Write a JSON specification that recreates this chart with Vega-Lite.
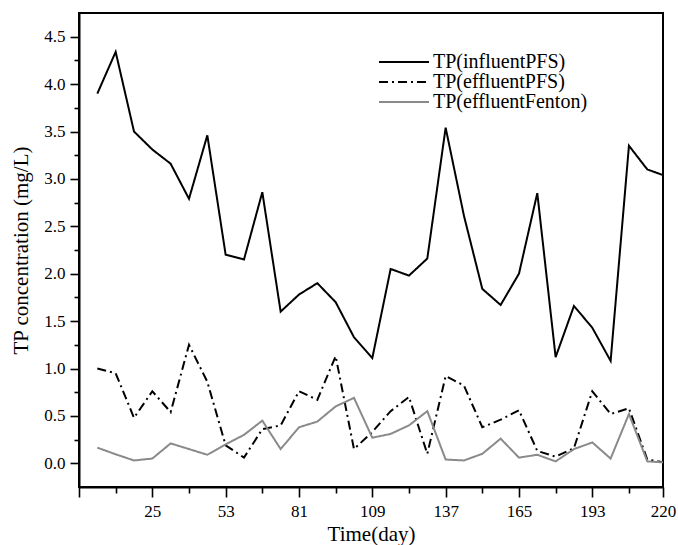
{
  "$schema": "https://vega.github.io/schema/vega-lite/v6.json",
  "width": 584,
  "height": 474,
  "autosize": {"type": "none"},
  "padding": {"left": 79, "top": 13, "right": 15, "bottom": 58},
  "background": "white",
  "config": {
    "font": "Liberation Serif",
    "view": {"stroke": "black", "strokeWidth": 2},
    "axis": {"grid": false, "domainColor": "black", "domainWidth": 2, "tickColor": "black", "tickWidth": 1.6, "labelColor": "black", "titleColor": "black", "labelFont": "Liberation Serif", "titleFont": "Liberation Serif", "labelFontSize": 17, "titleFontSize": 21, "titleFontWeight": "normal"}
  },
  "data": {"values": [
    {"day": 4, "series": "TP(influentPFS)", "value": 3.90},
    {"day": 11, "series": "TP(influentPFS)", "value": 4.34},
    {"day": 18, "series": "TP(influentPFS)", "value": 3.50},
    {"day": 25, "series": "TP(influentPFS)", "value": 3.31},
    {"day": 32, "series": "TP(influentPFS)", "value": 3.16},
    {"day": 39, "series": "TP(influentPFS)", "value": 2.79},
    {"day": 46, "series": "TP(influentPFS)", "value": 3.46},
    {"day": 53, "series": "TP(influentPFS)", "value": 2.20},
    {"day": 60, "series": "TP(influentPFS)", "value": 2.15},
    {"day": 67, "series": "TP(influentPFS)", "value": 2.86},
    {"day": 74, "series": "TP(influentPFS)", "value": 1.60},
    {"day": 81, "series": "TP(influentPFS)", "value": 1.78},
    {"day": 88, "series": "TP(influentPFS)", "value": 1.90},
    {"day": 95, "series": "TP(influentPFS)", "value": 1.70},
    {"day": 102, "series": "TP(influentPFS)", "value": 1.33},
    {"day": 109, "series": "TP(influentPFS)", "value": 1.11},
    {"day": 116, "series": "TP(influentPFS)", "value": 2.05},
    {"day": 123, "series": "TP(influentPFS)", "value": 1.98},
    {"day": 130, "series": "TP(influentPFS)", "value": 2.16},
    {"day": 137, "series": "TP(influentPFS)", "value": 3.54},
    {"day": 144, "series": "TP(influentPFS)", "value": 2.61},
    {"day": 151, "series": "TP(influentPFS)", "value": 1.84},
    {"day": 158, "series": "TP(influentPFS)", "value": 1.67},
    {"day": 165, "series": "TP(influentPFS)", "value": 2.00},
    {"day": 172, "series": "TP(influentPFS)", "value": 2.85},
    {"day": 179, "series": "TP(influentPFS)", "value": 1.12},
    {"day": 186, "series": "TP(influentPFS)", "value": 1.66},
    {"day": 193, "series": "TP(influentPFS)", "value": 1.43},
    {"day": 200, "series": "TP(influentPFS)", "value": 1.08},
    {"day": 207, "series": "TP(influentPFS)", "value": 3.35},
    {"day": 214, "series": "TP(influentPFS)", "value": 3.10},
    {"day": 220, "series": "TP(influentPFS)", "value": 3.04},
    {"day": 4, "series": "TP(effluentPFS)", "value": 1.00},
    {"day": 11, "series": "TP(effluentPFS)", "value": 0.95},
    {"day": 18, "series": "TP(effluentPFS)", "value": 0.48},
    {"day": 25, "series": "TP(effluentPFS)", "value": 0.76},
    {"day": 32, "series": "TP(effluentPFS)", "value": 0.54},
    {"day": 39, "series": "TP(effluentPFS)", "value": 1.25},
    {"day": 46, "series": "TP(effluentPFS)", "value": 0.86},
    {"day": 53, "series": "TP(effluentPFS)", "value": 0.19},
    {"day": 60, "series": "TP(effluentPFS)", "value": 0.06},
    {"day": 67, "series": "TP(effluentPFS)", "value": 0.36},
    {"day": 74, "series": "TP(effluentPFS)", "value": 0.40},
    {"day": 81, "series": "TP(effluentPFS)", "value": 0.76},
    {"day": 88, "series": "TP(effluentPFS)", "value": 0.67},
    {"day": 95, "series": "TP(effluentPFS)", "value": 1.13},
    {"day": 102, "series": "TP(effluentPFS)", "value": 0.15},
    {"day": 109, "series": "TP(effluentPFS)", "value": 0.33},
    {"day": 116, "series": "TP(effluentPFS)", "value": 0.55},
    {"day": 123, "series": "TP(effluentPFS)", "value": 0.70},
    {"day": 130, "series": "TP(effluentPFS)", "value": 0.10},
    {"day": 137, "series": "TP(effluentPFS)", "value": 0.92},
    {"day": 144, "series": "TP(effluentPFS)", "value": 0.82},
    {"day": 151, "series": "TP(effluentPFS)", "value": 0.38},
    {"day": 158, "series": "TP(effluentPFS)", "value": 0.46},
    {"day": 165, "series": "TP(effluentPFS)", "value": 0.56},
    {"day": 172, "series": "TP(effluentPFS)", "value": 0.13},
    {"day": 179, "series": "TP(effluentPFS)", "value": 0.07},
    {"day": 186, "series": "TP(effluentPFS)", "value": 0.16},
    {"day": 193, "series": "TP(effluentPFS)", "value": 0.76},
    {"day": 200, "series": "TP(effluentPFS)", "value": 0.52},
    {"day": 207, "series": "TP(effluentPFS)", "value": 0.58},
    {"day": 214, "series": "TP(effluentPFS)", "value": 0.04},
    {"day": 220, "series": "TP(effluentPFS)", "value": 0.01},
    {"day": 4, "series": "TP(effluentFenton)", "value": 0.165},
    {"day": 11, "series": "TP(effluentFenton)", "value": 0.095},
    {"day": 18, "series": "TP(effluentFenton)", "value": 0.03},
    {"day": 25, "series": "TP(effluentFenton)", "value": 0.05},
    {"day": 32, "series": "TP(effluentFenton)", "value": 0.21},
    {"day": 39, "series": "TP(effluentFenton)", "value": 0.15},
    {"day": 46, "series": "TP(effluentFenton)", "value": 0.09},
    {"day": 53, "series": "TP(effluentFenton)", "value": 0.20},
    {"day": 60, "series": "TP(effluentFenton)", "value": 0.30},
    {"day": 67, "series": "TP(effluentFenton)", "value": 0.45},
    {"day": 74, "series": "TP(effluentFenton)", "value": 0.15},
    {"day": 81, "series": "TP(effluentFenton)", "value": 0.38},
    {"day": 88, "series": "TP(effluentFenton)", "value": 0.44},
    {"day": 95, "series": "TP(effluentFenton)", "value": 0.60},
    {"day": 102, "series": "TP(effluentFenton)", "value": 0.69},
    {"day": 109, "series": "TP(effluentFenton)", "value": 0.27},
    {"day": 116, "series": "TP(effluentFenton)", "value": 0.31},
    {"day": 123, "series": "TP(effluentFenton)", "value": 0.40},
    {"day": 130, "series": "TP(effluentFenton)", "value": 0.55},
    {"day": 137, "series": "TP(effluentFenton)", "value": 0.04},
    {"day": 144, "series": "TP(effluentFenton)", "value": 0.03},
    {"day": 151, "series": "TP(effluentFenton)", "value": 0.10},
    {"day": 158, "series": "TP(effluentFenton)", "value": 0.26},
    {"day": 165, "series": "TP(effluentFenton)", "value": 0.06},
    {"day": 172, "series": "TP(effluentFenton)", "value": 0.09},
    {"day": 179, "series": "TP(effluentFenton)", "value": 0.02},
    {"day": 186, "series": "TP(effluentFenton)", "value": 0.15},
    {"day": 193, "series": "TP(effluentFenton)", "value": 0.22},
    {"day": 200, "series": "TP(effluentFenton)", "value": 0.05},
    {"day": 207, "series": "TP(effluentFenton)", "value": 0.52},
    {"day": 214, "series": "TP(effluentFenton)", "value": 0.02},
    {"day": 220, "series": "TP(effluentFenton)", "value": 0.01}
  ]},
  "mark": {"type": "line", "strokeWidth": 2},
  "encoding": {
    "x": {
      "field": "day", "type": "quantitative",
      "scale": {"domain": [-3, 220], "nice": false, "zero": false},
      "axis": {
        "title": "Time(day)",
        "values": [-3, 11, 25, 39, 53, 67, 81, 95, 109, 123, 137, 151, 165, 179, 193, 207, 220],
        "labelExpr": "indexof([25, 53, 81, 109, 137, 165, 193, 220], datum.value) >= 0 ? datum.label : ''",
        "tickSize": {"condition": {"test": "indexof([-3, 25, 53, 81, 109, 137, 165, 193, 220], datum.value) >= 0", "value": 10}, "value": 6},
        "labelPadding": 6,
        "labelFlush": false,
        "labelOverlap": false,
        "titlePadding": 4
      }
    },
    "y": {
      "field": "value", "type": "quantitative",
      "scale": {"domain": [-0.25, 4.75], "nice": false, "zero": false},
      "axis": {
        "title": "TP concentration (mg/L)",
        "values": [0, 0.25, 0.5, 0.75, 1, 1.25, 1.5, 1.75, 2, 2.25, 2.5, 2.75, 3, 3.25, 3.5, 3.75, 4, 4.25, 4.5],
        "labelExpr": "round(datum.value * 2) == datum.value * 2 ? format(datum.value, '.1f') : ''",
        "tickSize": {"condition": {"test": "round(datum.value * 2) == datum.value * 2", "value": 9}, "value": 5},
        "labelPadding": 5,
        "labelOverlap": false,
        "labelFlush": false,
        "titlePadding": 12
      }
    },
    "color": {
      "field": "series", "type": "nominal",
      "scale": {"domain": ["TP(influentPFS)", "TP(effluentPFS)", "TP(effluentFenton)"], "range": ["#000000", "#000000", "#8a8a8a"]},
      "legend": {
        "title": null, "orient": "none", "legendX": 315, "legendY": 39,
        "symbolType": "M-5,0L5,0", "symbolSize": 100, "symbolStrokeWidth": 2,
        "labelFontSize": 20, "labelFont": "Liberation Serif", "labelColor": "black",
        "labelOffset": 19, "rowPadding": -5, "labelLimit": 400
      }
    },
    "strokeDash": {
      "field": "series", "type": "nominal",
      "scale": {"domain": ["TP(influentPFS)", "TP(effluentPFS)", "TP(effluentFenton)"], "range": [[1, 0], [9, 4, 2, 4], [1, 0]]},
      "legend": {
        "title": null, "orient": "none", "legendX": 315, "legendY": 39,
        "symbolType": "M-5,0L5,0", "symbolSize": 100, "symbolStrokeWidth": 2,
        "labelFontSize": 20, "labelFont": "Liberation Serif", "labelColor": "black",
        "labelOffset": 19, "rowPadding": -5, "labelLimit": 400
      }
    }
  }
}
